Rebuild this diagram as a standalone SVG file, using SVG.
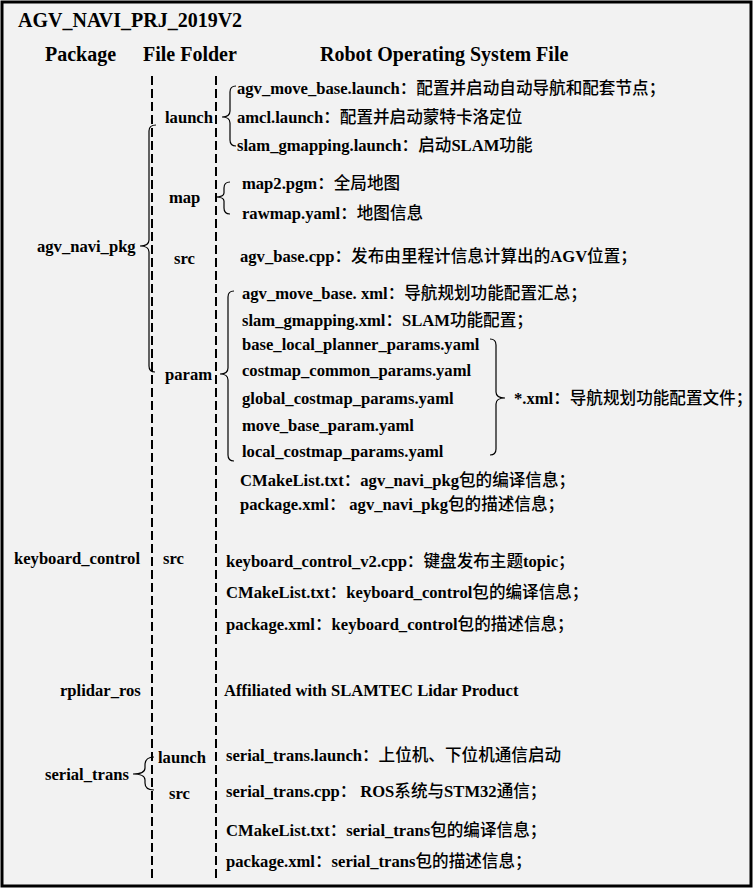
<svg xmlns="http://www.w3.org/2000/svg" width="755" height="889" viewBox="0 0 755 889">
<style>
text{font-family:"Liberation Serif","Noto Sans CJK SC",serif;font-weight:bold;font-size:16.6px;fill:#000}
.h{font-size:20px}
.c{font-family:"Noto Sans CJK SC","Liberation Serif",sans-serif;font-weight:500;font-size:16.6px}
.dash{stroke:#000;stroke-width:2;stroke-dasharray:9 4;fill:none}
.br{stroke:#000;stroke-width:1.2;fill:none}
</style>
<rect x="2" y="2" width="749" height="884" fill="#f2f2f2" stroke="#000" stroke-width="3"/>
<g id="headers">
<text x="18" y="27" class="h">AGV_NAVI_PRJ_2019V2</text>
<text x="45" y="61" class="h">Package</text>
<text x="143" y="61" class="h">File Folder</text>
<text x="320" y="61" class="h">Robot Operating System File</text>
</g>
<g id="connectors">
<line class="dash" x1="152" y1="76" x2="152" y2="880"/>
<line class="dash" x1="216" y1="76" x2="216" y2="880"/>
<path class="br" d="M156 125 Q149 125 149 131 L149 240 Q149 246 140 246 Q149 246 149 252 L149 366 Q149 372 155 372"/>
<path class="br" d="M236 86 Q230 86 230 92 L230 111 Q230 117 222 117 Q230 117 230 123 L230 140 Q230 146 236 146"/>
<path class="br" d="M230 182 Q224 182 224 188 L224 193 Q224 197 215 197 Q224 197 224 201 L224 208 Q224 214 230 214"/>
<path class="br" d="M234 291 Q228 291 228 297 L228 368 Q228 374 220 374 Q228 374 228 380 L228 455 Q228 461 234 461"/>
<path class="br" d="M490 339 Q496 339 496 345 L496 392 Q496 398 505 398 Q496 398 496 404 L496 449 Q496 455 490 455"/>
<path class="br" d="M154 757 Q145 757 145 765 L145 768 Q145 774 133 774 Q145 774 145 780 L145 783 Q145 790 154 790"/>
</g>
<g id="agv_navi_pkg">
<text x="37" y="252">agv_navi_pkg</text>
<text x="165" y="123">launch</text>
<text x="169" y="203">map</text>
<text x="174" y="264">src</text>
<text x="165" y="380">param</text>
<text x="237" y="94">agv_move_base.launch<tspan class="c">：配置并启动自动导航和配套节点；</tspan></text>
<text x="237" y="123">amcl.launch<tspan class="c">：配置并启动蒙特卡洛定位</tspan></text>
<text x="237" y="151">slam_gmapping.launch<tspan class="c">：启动</tspan>SLAM<tspan class="c">功能</tspan></text>
<text x="242" y="189">map2.pgm<tspan class="c">：全局地图</tspan></text>
<text x="242" y="219">rawmap.yaml<tspan class="c">：地图信息</tspan></text>
<text x="240" y="262">agv_base.cpp<tspan class="c">：发布由里程计信息计算出的</tspan>AGV<tspan class="c">位置；</tspan></text>
<text x="242" y="299">agv_move_base. xml<tspan class="c">：导航规划功能配置汇总；</tspan></text>
<text x="242" y="326">slam_gmapping.xml<tspan class="c">：</tspan>SLAM<tspan class="c">功能配置；</tspan></text>
<text x="242" y="350">base_local_planner_params.yaml</text>
<text x="242" y="376">costmap_common_params.yaml</text>
<text x="242" y="404">global_costmap_params.yaml</text>
<text x="242" y="431">move_base_param.yaml</text>
<text x="242" y="457">local_costmap_params.yaml</text>
<text x="514" y="404">*.xml<tspan class="c">：导航规划功能配置文件；</tspan></text>
<text x="240" y="486">CMakeList.txt<tspan class="c">：</tspan>agv_navi_pkg<tspan class="c">包的编译信息；</tspan></text>
<text x="240" y="510">package.xml<tspan class="c">：  </tspan>agv_navi_pkg<tspan class="c">包的描述信息；</tspan></text>
</g>
<g id="keyboard_control">
<text x="14" y="564">keyboard_control</text>
<text x="163" y="564">src</text>
<text x="226" y="567">keyboard_control_v2.cpp<tspan class="c">：键盘发布主题</tspan>topic<tspan class="c">；</tspan></text>
<text x="226" y="598">CMakeList.txt<tspan class="c">：</tspan>keyboard_control<tspan class="c">包的编译信息；</tspan></text>
<text x="226" y="630">package.xml<tspan class="c">：</tspan>keyboard_control<tspan class="c">包的描述信息；</tspan></text>
</g>
<g id="rplidar_ros">
<text x="60" y="696">rplidar_ros</text>
<text x="224" y="696">Affiliated with SLAMTEC Lidar Product</text>
</g>
<g id="serial_trans">
<text x="45" y="780">serial_trans</text>
<text x="158" y="763">launch</text>
<text x="169" y="799">src</text>
<text x="226" y="761">serial_trans.launch<tspan class="c">：上位机、下位机通信启动</tspan></text>
<text x="226" y="797">serial_trans.cpp<tspan class="c">：  </tspan>ROS<tspan class="c">系统与</tspan>STM32<tspan class="c">通信；</tspan></text>
<text x="226" y="836">CMakeList.txt<tspan class="c">：</tspan>serial_trans<tspan class="c">包的编译信息；</tspan></text>
<text x="226" y="867">package.xml<tspan class="c">：</tspan>serial_trans<tspan class="c">包的描述信息；</tspan></text>
</g>
</svg>
